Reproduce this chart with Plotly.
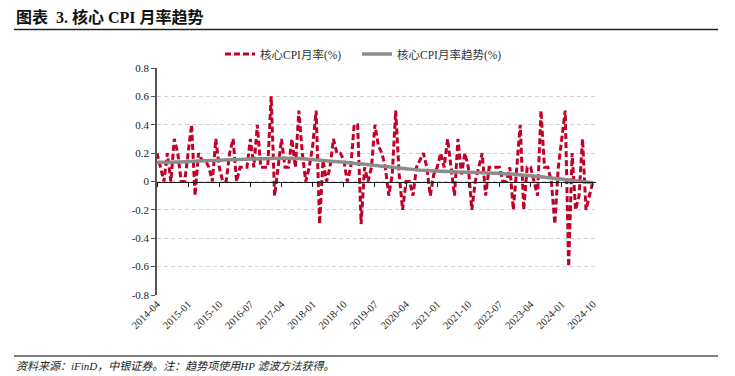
import plotly.graph_objects as go

# ---- data ----
start_year, start_month = 2014, 4
core_mom = [0.2, 0.1, 0.0, 0.2, 0.0, 0.3, 0.2, 0.0, 0.0, 0.2,
            0.4, -0.1, 0.2, 0.15, 0.15, 0.1, 0.0, 0.3, 0.1, 0.0,
            0.0, 0.2, 0.3, 0.0, 0.1, 0.1, 0.1, 0.3, 0.1, 0.4,
            0.1, 0.1, 0.1, 0.6, -0.1, 0.1, 0.3, 0.1, 0.1, 0.3,
            0.1, 0.5, 0.2, 0.0, 0.1, 0.25, 0.5, -0.3, 0.15, 0.0,
            0.1, 0.3, 0.2, 0.2, 0.15, 0.0, 0.1, 0.4, 0.4, -0.3,
            0.1, 0.0, 0.1, 0.4, 0.25, 0.2, 0.1, -0.1, 0.05, 0.5,
            0.05, -0.2, 0.0, 0.0, -0.1, 0.1, 0.15, 0.2, 0.1, -0.1,
            0.05, 0.1, 0.2, 0.1, 0.3, 0.1, -0.1, 0.3, 0.05, 0.2,
            0.1, -0.2, 0.0, 0.1, 0.2, -0.1, 0.1, 0.1, 0.1, 0.1,
            0.0, 0.0, 0.1, -0.2, 0.1, 0.4, -0.2, 0.1, 0.1, 0.0,
            -0.1, 0.5, 0.1, 0.1, 0.0, -0.3, 0.1, 0.3, 0.5, -0.6,
            0.2, -0.2, -0.1, 0.3, -0.2, -0.1, 0.0]

months = []
y, m = start_year, start_month
for _ in core_mom:
    months.append(f"{y}-{m:02d}")
    m += 1
    if m > 12:
        m = 1
        y += 1

# trend (HP filter) read at sparse month positions
trend_months = ["2014-04", "2014-10", "2015-04", "2015-10", "2016-04", "2016-10",
                "2017-04", "2017-10", "2018-04", "2018-10", "2019-04", "2019-10",
                "2020-04", "2020-10", "2021-04", "2021-10", "2022-04", "2022-10",
                "2023-04", "2023-10", "2024-04", "2024-10"]
trend_vals = [0.135, 0.138, 0.145, 0.15, 0.155, 0.16, 0.163, 0.16, 0.148, 0.135,
              0.122, 0.105, 0.09, 0.077, 0.07, 0.066, 0.06, 0.052, 0.04, 0.025,
              0.008, -0.008]

xtick_labels = ["2014-04", "2015-01", "2015-10", "2016-07", "2017-04", "2018-01",
                "2018-10", "2019-07", "2020-04", "2021-01", "2021-10", "2022-07",
                "2023-04", "2024-01", "2024-10"]
ytick_vals = [0.8, 0.6, 0.4, 0.2, 0, -0.2, -0.4, -0.6, -0.8]
ytick_text = ["0.8", "0.6", "0.4", "0.2", "0", "-0.2", "-0.4", "-0.6", "-0.8"]

name_mom = "核心CPI月率(%)"
name_trend = "核心CPI月率趋势(%)"
title_text = "<b>图表  3. 核心 CPI 月率趋势</b>"
footer_text = "资料来源：iFinD，中银证券。注：趋势项使用HP 滤波方法获得。"

# ---- layout helpers (pixel -> paper) ----
W, H = 735, 376
L, R, T, B = 157, 139, 68, 81
PW, PH = W - L - R, H - T - B


def px(x):
    return (x - L) / PW


def py(yy):
    return (H - B - yy) / PH


SERIF = "Times New Roman, Liberation Serif, Noto Sans CJK SC, serif"
RED = "#C00027"
GRAY = "#8C8C8C"

fig = go.Figure()
fig.add_trace(go.Scatter(x=months, y=core_mom, mode="lines", name=name_mom,
                         legend="legend",
                         line=dict(color=RED, width=3, dash="6px,3px")))
fig.add_trace(go.Scatter(x=trend_months, y=trend_vals, mode="lines", name=name_trend,
                         legend="legend2",
                         line=dict(color=GRAY, width=3.5, shape="spline")))
# invisible trace to carry the zero-line axis
fig.add_trace(go.Scatter(x=months, y=[None] * len(months), xaxis="x2", showlegend=False,
                         hoverinfo="skip", mode="lines"))

legend_common = dict(orientation="h", yanchor="middle", xanchor="left", itemwidth=30,
                     font=dict(family=SERIF, size=11.5, color="#333333"),
                     bgcolor="rgba(0,0,0,0)")

n = len(months)
fig.update_layout(
    width=W, height=H,
    margin=dict(l=L, r=R, t=T, b=B, autoexpand=False),
    paper_bgcolor="white", plot_bgcolor="white",
    font=dict(family=SERIF, size=11, color="#222222"),
    showlegend=True,
    legend=dict(x=px(220), y=py(54), **legend_common),
    legend2=dict(x=px(357), y=py(54), **legend_common),
    xaxis=dict(type="category", categoryorder="array", categoryarray=months,
               range=[0, n - 0.1], tickmode="array", tickvals=xtick_labels,
               ticktext=xtick_labels, tickangle=-45, showgrid=False, showline=False,
               ticks="", zeroline=False, automargin=False,
               tickfont=dict(size=10.5, family=SERIF)),
    xaxis2=dict(type="category", categoryorder="array", categoryarray=months,
                overlaying="x", matches="x", anchor="free", position=0.5,
                showline=True, linecolor="#1a1a1a", linewidth=1,
                ticks="outside", ticklen=4, tickcolor="#1a1a1a", tickwidth=1,
                tickmode="array", tickvals=xtick_labels, showticklabels=False,
                showgrid=False, zeroline=False, automargin=False),
    yaxis=dict(range=[-0.8, 0.8], tickmode="array", tickvals=ytick_vals, ticktext=ytick_text,
               showgrid=True, gridcolor="#D4D4D4", griddash="4px,3px", gridwidth=1,
               showline=True, linecolor="#555555", linewidth=1.5, ticks="outside",
               ticklen=4, tickcolor="#555555", zeroline=False, automargin=False,
               tickfont=dict(size=11, family=SERIF)),
)

fig.add_annotation(text=title_text, xref="paper", yref="paper", x=px(14), y=py(17),
                   xanchor="left", yanchor="middle", showarrow=False,
                   font=dict(family=SERIF, size=16, color="#111111"))
fig.add_annotation(text=footer_text, xref="paper", yref="paper", x=px(14), y=py(366),
                   xanchor="left", yanchor="middle", showarrow=False,
                   font=dict(family=SERIF, size=11, color="#222222", style="italic"))
fig.add_shape(type="line", xref="paper", yref="paper", x0=px(14), x1=px(718),
              y0=py(29.5), y1=py(29.5), line=dict(color="#222222", width=1.5))
fig.add_shape(type="line", xref="paper", yref="paper", x0=px(14), x1=px(718),
              y0=py(356), y1=py(356), line=dict(color="#555555", width=1.5))

fig.write_html("out.html", config={"displayModeBar": False},
               post_script="document.body.style.margin='0px';document.body.style.padding='0px';")
